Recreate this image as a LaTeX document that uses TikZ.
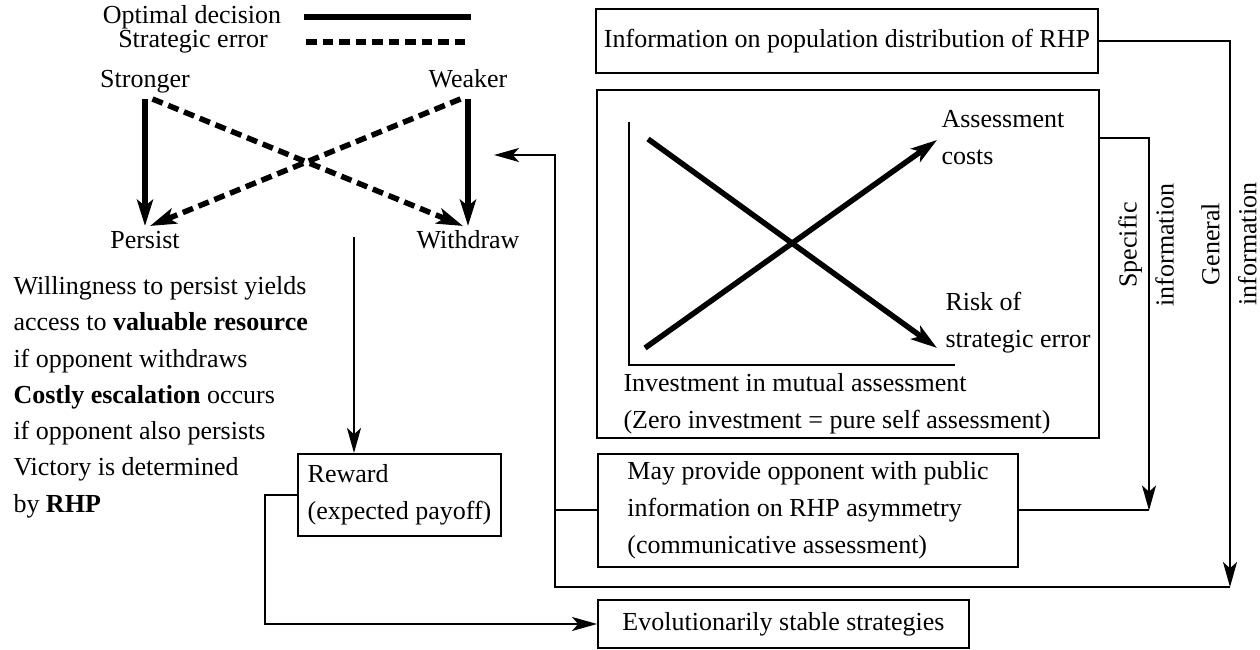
\documentclass[tikz,border=0pt]{standalone}
\usepackage{fontspec}
\setmainfont{Liberation Serif}
\usetikzlibrary{arrows.meta,positioning}

\begin{document}
\begin{tikzpicture}[x=0.4pt, y=-0.4pt, font=\fontsize{10.4pt}{14.8pt}\selectfont,
    box/.style={draw, line width=0.8pt, inner sep=0pt, align=left},
    word/.style={inner sep=2pt, text height=7pt, text depth=2.2pt},
    best/.style={line width=2.2pt, -{Stealth[length=10.5pt,width=6.4pt,inset=2.5pt]}},
    slip/.style={best, dash pattern=on 4.4pt off 2.4pt},
    link/.style={line width=0.8pt, -{Stealth[length=10pt,width=5.6pt,inset=2.5pt]}},
    wire/.style={line width=0.8pt}]
	\useasboundingbox (0,0) rectangle (1260,650);

	% legend
	\node (optlbl) at (192,17) {Optimal decision};
	\node (errlbl) at (193,42) {Strategic error};
	\draw[line width=2.3pt] (304,17) -- (471,17);
	\draw[line width=2.3pt, dash pattern=on 4.3pt off 2.3pt] (306,42) -- (470,42);

	% the two contestants and their choices
	\node[word] (str) at (145,82) {Stronger};
	\node[word] (wkr) at (468,82) {Weaker};
	\node[word] (per) at (145,243) {Persist};
	\node[word] (wdr) at (468,243) {Withdraw};

	\draw[best] (str) -- (per);
	\draw[best] (wkr) -- (wdr);
	\draw[slip] ([xshift=3pt]str.south) -- ([xshift=-2pt]wdr.north);
	\draw[slip] ([xshift=-3pt]wkr.south) -- ([xshift=2pt]per.north);

	\node[inner sep=0pt, align=left, anchor=north west, font=\fontsize{10.4pt}{14.5pt}\selectfont] (rules) at (13,276)
		{Willingness to persist yields\\access to \textbf{valuable resource}\\if opponent withdraws\\
		\textbf{Costly escalation} occurs\\if opponent also persists\\Victory is determined\\by \textbf{RHP}};

	% boxes
	\node[box, align=center, minimum width=200.8pt, minimum height=25.6pt] (info) at (847,41)
		{Information on population distribution of RHP};
	\node[box, minimum width=200.8pt, minimum height=139.2pt] (chart) at (848,264) {};
	\node[box, minimum width=168pt, minimum height=45.2pt] (may) at (808,510.5)
		{May provide opponent with public\\information on RHP asymmetry\\(communicative assessment)};
	\node[box, minimum width=81.2pt, minimum height=32.8pt] (reward) at (399.5,495)
		{Reward\\(expected payoff)};
	\node[box, align=center, minimum width=148.4pt, minimum height=19.2pt] (evo) at (783.5,624)
		{Evolutionarily stable strategies};

	% inside the chart
	\draw[line width=1pt] (629,122) -- (629,365) -- (955,365);
	\draw[best] (648,139) -- (937,348);
	\draw[best] (645,348) -- (937,140);
	\node[anchor=west, align=left, inner sep=0pt] (cost) at (941,138) {Assessment\\costs};
	\node[anchor=west, align=left, inner sep=0pt] (risk) at (945,323) {Risk of\\strategic error};
	\node[anchor=west, align=left, inner sep=0pt] (invest) at (623,404)
		{Investment in mutual assessment\\(Zero investment = pure self assessment)};

	% connectors
	\coordinate (gen) at (1230,587);
	\coordinate (bend) at (555,587);
	\coordinate (back) at (494,155);
	\coordinate (spec) at (1149,510.5);
	\coordinate (drop) at (354,237);

	\draw[link] (info.east) -| (gen);
	\draw[link] (chart.north east) ++(0,49) -| (spec);
	\draw[wire] (may.east) -- (spec);
	\draw[link] (gen) -- (bend) |- (back);
	\draw[wire] (may.west) -- (may.west -| bend);
	\draw[link] (drop) -- (drop |- reward.north);
	\draw[link] (reward.west) -- ++(-32,0) |- (evo.west);

	\node[rotate=90, align=center, inner sep=0pt] (speclbl) at (1146,245) {Specific\\information};
	\node[rotate=90, align=center, inner sep=0pt] (genlbl) at (1229,244) {General\\information};
\end{tikzpicture}
\end{document}
